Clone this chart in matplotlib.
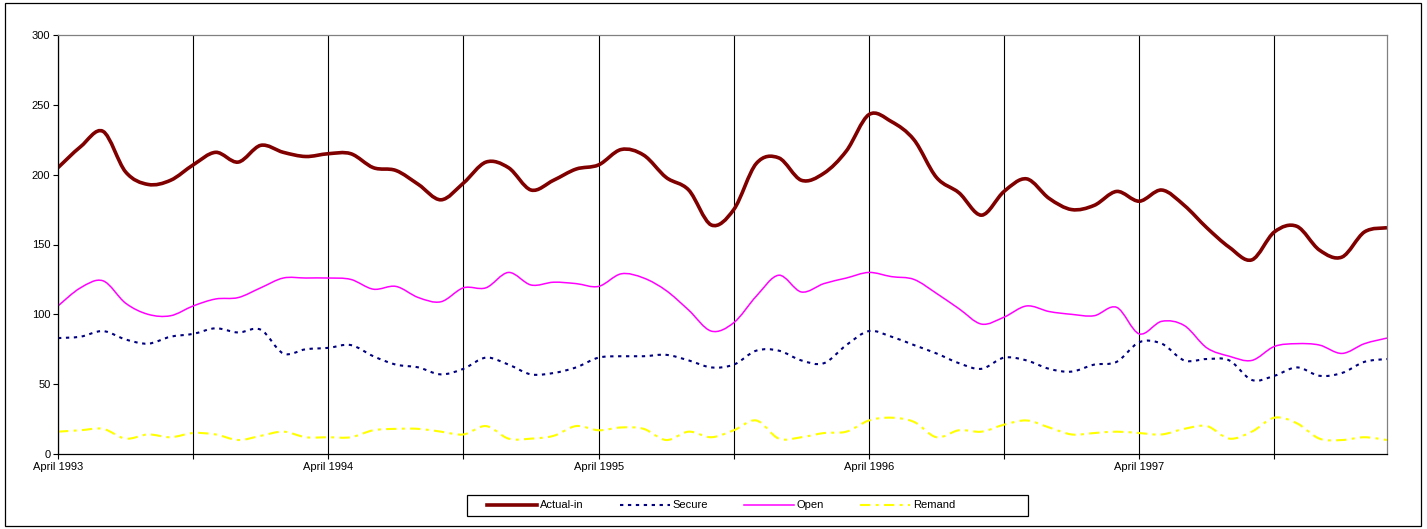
import matplotlib
matplotlib.use("Agg")
import matplotlib.pyplot as plt
import numpy as np
from matplotlib.path import Path
from matplotlib.patches import PathPatch, Rectangle
from matplotlib.lines import Line2D

plt.rcParams["font.family"] = ["Liberation Sans", "DejaVu Sans"]
plt.rcParams["font.size"] = 8

# monthly counts, April 1993 .. March 1998
actual_in = [205, 220, 231, 202, 193, 196, 207, 216, 209, 221, 216, 213,
             215, 215, 205, 203, 193, 182, 194, 209, 205, 189, 196, 204,
             207, 218, 214, 198, 189, 164, 175, 208, 212, 196, 201, 217,
             243, 238, 225, 198, 187, 171, 188, 197, 183, 175, 178, 188,
             181, 189, 178, 162, 148, 139, 159, 163, 146, 141, 159, 162]
secure = [83, 84, 88, 82, 79, 84, 86, 90, 87, 89, 72, 75,
          76, 78, 70, 64, 62, 57, 61, 69, 64, 57, 58, 62,
          69, 70, 70, 71, 67, 62, 64, 74, 74, 67, 65, 78,
          88, 84, 78, 72, 65, 61, 69, 67, 61, 59, 64, 66,
          80, 79, 67, 68, 67, 53, 56, 62, 56, 58, 66, 68]
open_ = [106, 119, 124, 108, 100, 99, 106, 111, 112, 119, 126, 126,
         126, 125, 118, 120, 112, 109, 119, 119, 130, 121, 123, 122,
         120, 129, 126, 117, 103, 88, 94, 113, 128, 116, 122, 126,
         130, 127, 125, 115, 104, 93, 98, 106, 102, 100, 99, 105,
         86, 95, 92, 76, 70, 67, 77, 79, 78, 72, 79, 83]
remand = [16, 17, 18, 11, 14, 12, 15, 14, 10, 13, 16, 12,
          12, 12, 17, 18, 18, 16, 14, 20, 11, 11, 13, 20,
          17, 19, 18, 10, 16, 12, 17, 24, 11, 12, 15, 16,
          24, 26, 23, 12, 17, 16, 21, 24, 19, 14, 15, 16,
          15, 14, 18, 20, 11, 16, 26, 22, 11, 10, 12, 10]

tick_labels = ["April 1993", "", "April 1994", "", "April 1995", "",
               "April 1996", "", "April 1997", ""]

series = [
    ("Actual-in", actual_in, dict(color="#800000", lw=2.6, ls="-")),
    ("Secure", secure, dict(color="#000080", lw=1.5, ls=(0, (1.6, 2.2)))),
    ("Open", open_, dict(color="#FF00FF", lw=1.1, ls="-")),
    ("Remand", remand, dict(color="#FFFF00", lw=1.5, ls=(0, (5, 2.5, 1.5, 2.5)))),
]


def smooth_path(y):
    # Catmull-Rom through the points, expressed as cubic Bezier segments
    pts = np.column_stack([np.arange(len(y)), np.asarray(y, float)])
    n = len(pts)
    verts = [pts[0]]
    codes = [Path.MOVETO]
    for i in range(n - 1):
        p0 = pts[i - 1] if i > 0 else pts[i]
        p1, p2 = pts[i], pts[i + 1]
        p3 = pts[i + 2] if i + 2 < n else pts[i + 1]
        verts += [p1 + (p2 - p0) / 6, p2 - (p3 - p1) / 6, p2]
        codes += [Path.CURVE4] * 3
    return Path(verts, codes)


fig = plt.figure(figsize=(14.27, 5.29), dpi=100)
ax = fig.add_axes([58 / 1427, 1 - 454 / 529, (1387 - 58) / 1427, (454 - 35) / 529])

handles = []
for name, vals, st in series:
    ax.add_patch(PathPatch(smooth_path(vals), fill=False, edgecolor=st["color"],
                           lw=st["lw"], ls=st["ls"], capstyle="butt", joinstyle="round"))
    handles.append(Line2D([], [], color=st["color"], lw=st["lw"], ls=st["ls"], label=name))

ax.set_xlim(0, len(actual_in) - 1)
ax.set_ylim(0, 300)
ax.set_yticks(range(0, 301, 50))
ax.set_xticks(range(0, 60, 6))
ax.set_xticklabels(tick_labels)
ax.grid(axis="x", color="black", lw=0.8)
ax.set_axisbelow(True)
ax.tick_params(direction="out", length=3.5, width=0.8, pad=2, colors="black")
for s in ["top", "right"]:
    ax.spines[s].set_color("#808080")
for s in ["left", "bottom"]:
    ax.spines[s].set_color("black")
for s in ax.spines.values():
    s.set_linewidth(0.9)

leg = fig.legend(handles=handles, loc="center left", bbox_to_anchor=(487 / 1427, 1 - 505.5 / 529),
                 ncol=4, frameon=False, borderpad=0, borderaxespad=0, handlelength=4.5,
                 handletextpad=0.25, columnspacing=3.25)

fig.patches.append(Rectangle((467 / 1427, 1 - 516 / 529), (1028 - 467) / 1427, 21 / 529,
                             transform=fig.transFigure, fill=False, ec="black", lw=0.9))
fig.patches.append(Rectangle((5 / 1427, 1 - 526 / 529), (1421 - 5) / 1427, (526 - 3) / 529,
                             transform=fig.transFigure, fill=False, ec="black", lw=0.9))

fig.savefig("out.png", dpi=100)
plt.close(fig)
